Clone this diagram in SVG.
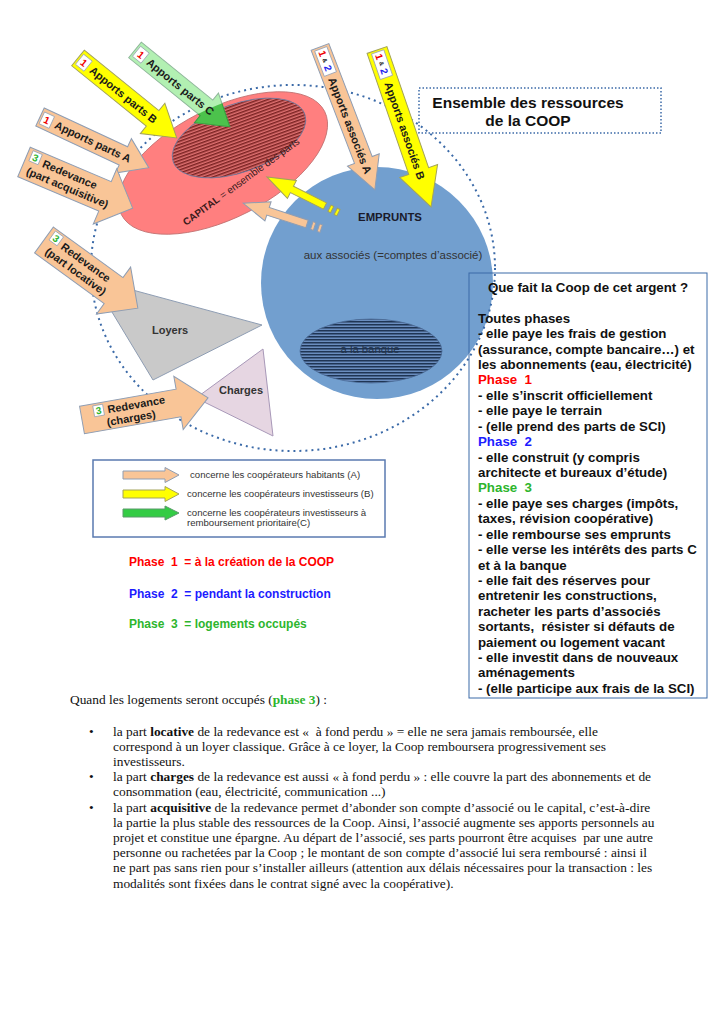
<svg xmlns="http://www.w3.org/2000/svg" width="724" height="1024" viewBox="0 0 724 1024">
<style>
.t{font-family:'Liberation Sans',Arial,sans-serif}
.b{font-weight:bold}
.pe{fill:#f9c597;stroke:#8e9db3;stroke-width:1}
.ye{fill:#ffff00;stroke:#a3a35a;stroke-width:1}
.gr{fill:#b2f0b2;stroke:#8fb79a;stroke-width:1}
.bx{fill:#fff;stroke:#9aa3b3;stroke-width:0.8}
.al{font-family:'Liberation Sans',Arial,sans-serif;font-weight:bold;font-size:11px;fill:#1a1a1a}
.num{font-family:'Liberation Sans',Arial,sans-serif;font-weight:bold;font-size:10px}
.rb{font-family:'Liberation Sans',Arial,sans-serif;font-weight:bold;font-size:13.3px;fill:#111}
.sr{font-family:'Liberation Serif','Times New Roman',serif;font-size:13.4px;fill:#111}
.lg{font-family:'Liberation Sans',Arial,sans-serif;font-size:9.6px;fill:#333}
.ph{font-family:'Liberation Sans',Arial,sans-serif;font-weight:bold;font-size:12px;white-space:pre}
</style>
<defs>
<pattern id="hatchRed" patternUnits="userSpaceOnUse" width="6" height="3">
<rect width="6" height="3" fill="#e07272"/>
<rect width="6" height="1.5" fill="#7a2222"/>
</pattern>
<pattern id="hatchBlue" patternUnits="userSpaceOnUse" width="6" height="3">
<rect width="6" height="3" fill="#6a8dbf"/>
<rect width="6" height="1.5" fill="#1f3554"/>
</pattern>
<clipPath id="redClip">
<ellipse cx="223" cy="163" rx="114" ry="55" transform="rotate(-27 223 163)"/>
</clipPath>
</defs>
<rect width="724" height="1024" fill="#fff"/>

<g id="emprunts">
<circle cx="377" cy="283" r="116" fill="#729fcf"/>
<ellipse cx="371" cy="351" rx="71" ry="32" fill="url(#hatchBlue)" stroke="#4a6a96" stroke-width="0.8"/>
<text class="t b" x="390" y="221" font-size="11.4" text-anchor="middle" fill="#1a1a2a">EMPRUNTS</text>
<text class="t" x="393" y="259" font-size="11.5" text-anchor="middle" fill="#333">aux associés (=comptes d’associé)</text>
<text class="t" x="370" y="353" font-size="11.3" text-anchor="middle" fill="#22324a">à la banque</text>
</g>

<g id="loyers">
<polygon points="92,279 262,325 153,380" fill="#c9c9c9" stroke="#8e9db3" stroke-width="1"/>
<text class="t b" x="170" y="334" font-size="11" text-anchor="middle" fill="#333">Loyers</text>
</g>
<g id="charges">
<polygon points="196,398 263,349 273,436" fill="#e6d6e2" stroke="#a898b8" stroke-width="1"/>
<text class="t b" x="241" y="394" font-size="11" text-anchor="middle" fill="#333">Charges</text>
</g>

<g id="ressources-circle">
<ellipse cx="293" cy="268" rx="202" ry="183" fill="none" stroke="#3b6aa8" stroke-width="2" stroke-dasharray="2 4"/>
</g>

<g id="capital">
<ellipse cx="223" cy="163" rx="114" ry="55" transform="rotate(-27 223 163)" fill="#ff7f7f" stroke="#c07070" stroke-width="0.8"/>
<ellipse cx="239" cy="138" rx="70" ry="34" transform="rotate(-20 239 138)" fill="url(#hatchRed)" stroke="#6a7aa0" stroke-width="0.8"/>
<text class="t" font-size="10" fill="#3a1a1a" transform="translate(186,226) rotate(-36)"><tspan font-weight="bold">CAPITAL</tspan> = ensemble des parts</text>
</g>

<g id="title">
<rect x="419" y="88" width="242" height="45" fill="none" stroke="#3b6aa8" stroke-width="1.5" stroke-dasharray="1.5 2"/>
<text class="t b" x="528" y="108" font-size="15.5" text-anchor="middle" fill="#111">Ensemble des ressources</text>
<text class="t b" x="528" y="126" font-size="15.5" text-anchor="middle" fill="#111">de la COOP</text>
</g>

<g id="connectors">
<g id="arrow-apports-c">
<path class="gr" transform="translate(135,50) rotate(39)" d="M0,-10H92V-19L122,0L92,19V10H0Z"/>
<g clip-path="url(#redClip)"><path transform="translate(135,50) rotate(39)" d="M0,-10H92V-19L122,0L92,19V10H0Z" fill="#4cc24c" stroke="#3a9a3a" stroke-width="1"/></g>
<g transform="translate(135,50) rotate(39)">
<rect class="bx" x="2" y="-6.5" width="11" height="13"/>
<text class="num" x="7.5" y="3.6" text-anchor="middle" fill="#e00">1</text>
<text class="al" x="17" y="4">Apports parts C</text>
</g>
</g>
<g id="arrow-apports-b" transform="translate(78,58) rotate(39)">
<path class="ye" d="M0,-10H96V-19.5L127,0L96,19.5V10H0Z"/>
<rect class="bx" x="2" y="-6.5" width="11" height="13"/>
<text class="num" x="7.5" y="3.6" text-anchor="middle" fill="#e00">1</text>
<text class="al" x="17" y="4">Apports parts B</text>
</g>
<g id="arrow-apports-a" transform="translate(40,117) rotate(25)">
<path class="pe" d="M0,-10H92V-19L120,0L92,19V10H0Z"/>
<rect class="bx" x="2" y="-6.5" width="11" height="13"/>
<text class="num" x="7.5" y="3.6" text-anchor="middle" fill="#e00">1</text>
<text class="al" x="17" y="4">Apports parts A</text>
</g>
<g id="arrow-redevance-acquisitive" transform="translate(24,162) rotate(23)">
<path class="pe" d="M0,-16H88V-30L118,0L88,30V16H0Z"/>
<rect class="bx" x="4" y="-14" width="10" height="11"/>
<text class="num" x="9" y="-4.8" text-anchor="middle" fill="#2db52d">3</text>
<text class="al" x="18" y="-2.5">Redevance</text>
<text class="al" x="6" y="10.5">(part acquisitive)</text>
</g>
<g id="arrow-redevance-locative" transform="translate(44,240) rotate(36)">
<path class="pe" d="M0,-16H86V-29L116,0L86,29V16H0Z"/>
<rect class="bx" x="4" y="-14" width="10" height="11"/>
<text class="num" x="9" y="-4.8" text-anchor="middle" fill="#2db52d">3</text>
<text class="al" x="18" y="-2.5">Redevance</text>
<text class="al" x="8" y="10.5">(part locative)</text>
</g>
<g id="arrow-redevance-charges" transform="translate(82,420) rotate(-10)">
<path class="pe" d="M0,-14H98V-27L128,0L98,27V14H0Z"/>
<rect class="bx" x="13" y="-12" width="10" height="11"/>
<text class="num" x="18" y="-2.8" text-anchor="middle" fill="#2db52d">3</text>
<text class="al" x="27" y="-2">Redevance</text>
<text class="al" x="24" y="10.5">(charges)</text>
</g>
<g id="arrow-associes-a" transform="translate(320,47) rotate(69)">
<path class="pe" d="M0,-9.5H121V-17L153,0L121,17V9.5H0Z"/>
<rect class="bx" x="2" y="-6.5" width="27" height="13"/>
<text class="num" x="7" y="3.6" text-anchor="middle" fill="#e00">1</text>
<text class="t b" x="14.5" y="2.2" font-size="6" text-anchor="middle" fill="#222">&amp;</text>
<text class="num" x="22.5" y="3.6" text-anchor="middle" fill="#2222ee">2</text>
<text class="al" x="33" y="4" font-size="11.6">Apports associés A</text>
</g>
<g id="arrow-associes-b" transform="translate(377,50) rotate(71)">
<path class="ye" d="M0,-10.5H128V-20L166,0L128,20V10.5H0Z"/>
<rect class="bx" x="2" y="-6.5" width="27" height="13"/>
<text class="num" x="7" y="3.6" text-anchor="middle" fill="#e00">1</text>
<text class="t b" x="14.5" y="2.2" font-size="6" text-anchor="middle" fill="#222">&amp;</text>
<text class="num" x="22.5" y="3.6" text-anchor="middle" fill="#2222ee">2</text>
<text class="al" x="34" y="4" font-size="11.6">Apports associés B</text>
</g>
<g id="arrow-retour-b" transform="translate(325,206) rotate(206.6)">
<path class="ye" d="M0,-3.5H37V-10L65,0L37,10V3.5H0Z"/>
<rect class="ye" x="-8" y="-3.5" width="3" height="7"/>
<rect class="ye" x="-15" y="-3.5" width="3" height="7"/>
</g>
<g id="arrow-retour-a" transform="translate(307,224) rotate(198)">
<path class="pe" d="M0,-4H41V-10L67,0L41,10V4H0Z"/>
<rect class="pe" x="-8" y="-4" width="3" height="8"/>
<rect class="pe" x="-15" y="-4" width="3" height="8"/>
</g>
</g>

<g id="usage-box">
<rect x="469" y="273" width="238" height="425" fill="none" stroke="#3b6aa8" stroke-width="1"/>
<text class="rb" x="588" y="292" text-anchor="middle">Que fait la Coop de cet argent ?</text>
<text class="rb" x="478" y="322.8">Toutes phases<tspan x="478" dy="15.42">- elle paye les frais de gestion</tspan><tspan x="478" dy="15.42">(assurance, compte bancaire…) et</tspan><tspan x="478" dy="15.42">les abonnements (eau, électricité)</tspan><tspan x="478" dy="15.42" fill="#ff0000" style="white-space:pre">Phase  1</tspan><tspan x="478" dy="15.42">- elle s’inscrit officiellement</tspan><tspan x="478" dy="15.42">- elle paye le terrain</tspan><tspan x="478" dy="15.42">- (elle prend des parts de SCI)</tspan><tspan x="478" dy="15.42" fill="#1c1cff" style="white-space:pre">Phase  2</tspan><tspan x="478" dy="15.42">- elle construit (y compris</tspan><tspan x="478" dy="15.42">architecte et bureaux d’étude)</tspan><tspan x="478" dy="15.42" fill="#2db52d" style="white-space:pre">Phase  3</tspan><tspan x="478" dy="15.42">- elle paye ses charges (impôts,</tspan><tspan x="478" dy="15.42">taxes, révision coopérative)</tspan><tspan x="478" dy="15.42">- elle rembourse ses emprunts</tspan><tspan x="478" dy="15.42">- elle verse les intérêts des parts C</tspan><tspan x="478" dy="15.42">et à la banque</tspan><tspan x="478" dy="15.42">- elle fait des réserves pour</tspan><tspan x="478" dy="15.42">entretenir les constructions,</tspan><tspan x="478" dy="15.42">racheter les parts d’associés</tspan><tspan x="478" dy="15.42" style="white-space:pre">sortants,  résister si défauts de</tspan><tspan x="478" dy="15.42">paiement ou logement vacant</tspan><tspan x="478" dy="15.42">- elle investit dans de nouveaux</tspan><tspan x="478" dy="15.42">aménagements</tspan><tspan x="478" dy="15.42">- (elle participe aux frais de la SCI)</tspan></text>
</g>

<g id="legend">
<rect x="93" y="460" width="292" height="77" fill="#fff" stroke="#5a7ab0" stroke-width="1.5"/>
<path class="pe" d="M123,471H165V467.5L179,475L165,482.5V479H123Z"/>
<path class="ye" d="M123,490H165V486.5L179,494L165,501.5V498H123Z"/>
<path d="M123,509H165V506L179,513L165,520V517H123Z" fill="#33cc44" stroke="#5a9a6a" stroke-width="1"/>
<text class="lg" x="190" y="478.3">concerne les coopérateurs habitants (A)</text>
<text class="lg" x="187" y="497.3">concerne les coopérateurs investisseurs (B)</text>
<text class="lg" x="187" y="515.5">concerne les coopérateurs investisseurs à</text>
<text class="lg" x="187" y="525.5">remboursement prioritaire(C)</text>
</g>

<g id="phases">
<text class="ph" x="129" y="566" fill="#ff0000">Phase  1  = à la création de la COOP</text>
<text class="ph" x="129" y="598" fill="#1c1cff">Phase  2  = pendant la construction</text>
<text class="ph" x="129" y="628" fill="#2db52d">Phase  3  = logements occupés</text>
</g>

<g id="notes">
<text class="sr" x="70" y="703.5">Quand les logements seront occupés (<tspan font-weight="bold" fill="#2db52d">phase 3</tspan>) :</text>
<text class="sr" x="89" y="735.5">•</text>
<text class="sr" x="89" y="781">•</text>
<text class="sr" x="89" y="811.5">•</text>
<text class="sr" x="113" y="735.5" style="white-space:pre">la part <tspan font-weight="bold">locative</tspan> de la redevance est «  à fond perdu » = elle ne sera jamais remboursée, elle</text>
<text class="sr" x="113" y="750.7">correspond à un loyer classique. Grâce à ce loyer, la Coop remboursera progressivement ses</text>
<text class="sr" x="113" y="765.9">investisseurs.</text>
<text class="sr" x="113" y="781.1">la part <tspan font-weight="bold">charges</tspan> de la redevance est aussi « à fond perdu » : elle couvre la part des abonnements et de</text>
<text class="sr" x="113" y="796.3">consommation (eau, électricité, communication ...)</text>
<text class="sr" x="113" y="811.5">la part <tspan font-weight="bold">acquisitive</tspan> de la redevance permet d’abonder son compte d’associé ou le capital, c’est-à-dire</text>
<text class="sr" x="113" y="826.7">la partie la plus stable des ressources de la Coop. Ainsi, l’associé augmente ses apports personnels au</text>
<text class="sr" x="113" y="841.9" style="white-space:pre">projet et constitue une épargne. Au départ de l’associé, ses parts pourront être acquises  par une autre</text>
<text class="sr" x="113" y="857.1">personne ou rachetées par la Coop ; le montant de son compte d’associé lui sera remboursé : ainsi il</text>
<text class="sr" x="113" y="872.3">ne part pas sans rien pour s’installer ailleurs (attention aux délais nécessaires pour la transaction : les</text>
<text class="sr" x="113" y="887.5">modalités sont fixées dans le contrat signé avec la coopérative).</text>
</g>
</svg>
